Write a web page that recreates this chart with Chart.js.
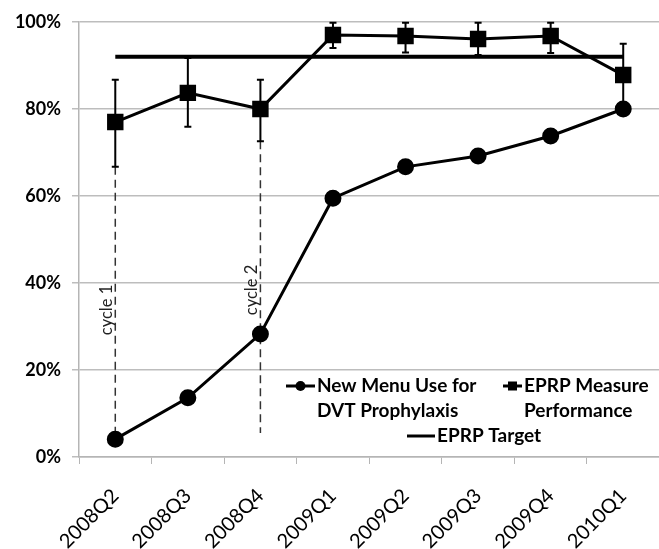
<!DOCTYPE html>
<html>
<head>
<meta charset="utf-8">
<script src="https://cdn.jsdelivr.net/npm/chart.js@4/dist/chart.umd.min.js"></script>
<style>
  html, body { margin: 0; padding: 0; background: #fff; overflow: hidden; }
  #wrap { width: 672px; height: 549px; }
</style>
</head>
<body>
<div id="wrap"><canvas id="mycanvas" width="672" height="549"></canvas></div>
<script>
var quarters = ['2008Q2', '2008Q3', '2008Q4', '2009Q1', '2009Q2', '2009Q3', '2009Q4', '2010Q1'];
var menuUse = [4.1, 13.6, 28.3, 59.5, 66.7, 69.2, 73.8, 80.0];
var eprpMeasure = [77.0, 83.7, 80.0, 97.0, 96.8, 96.1, 96.8, 87.8];
var eprpHigh = [86.7, 91.7, 86.7, 99.8, 99.8, 99.8, 99.8, 95.0];
var eprpLow = [66.7, 75.9, 72.6, 94.0, 93.0, 92.4, 92.9, 80.0];
var eprpTarget = [92, 92, 92, 92, 92, 92, 92, 92];
var yTicks = [0, 20, 40, 60, 80, 100];

// vertical "cycle" markers
var cycleIndex = [0, 2];
var cycleTop = [66.7, 72.6];
var cycleBottom = [4.1, 5.5];
var cycleText = ['cycle 1', 'cycle 2'];
var cycleTextAt = [33.8, 38.4];

var legendLabels = [['New Menu Use for', 'DVT Prophylaxis'], ['EPRP Measure', 'Performance'], ['EPRP Target']];

// error bars + cycle lines, drawn under the series
var extras = {
  id: 'extras',
  beforeDatasetsDraw: function(chart) {
    var ctx = chart.ctx, x = chart.scales.x, y = chart.scales.y;
    ctx.save();
    // cycle dashed lines
    ctx.strokeStyle = '#333';
    ctx.lineWidth = 1.5;
    ctx.setLineDash([8, 5]);
    for (var i = 0; i < cycleIndex.length; i++) {
      var px = x.getPixelForValue(cycleIndex[i]);
      ctx.beginPath();
      ctx.moveTo(px, y.getPixelForValue(cycleTop[i]));
      ctx.lineTo(px, y.getPixelForValue(cycleBottom[i]));
      ctx.stroke();
    }
    ctx.setLineDash([]);
    // cycle labels
    ctx.fillStyle = '#222';
    ctx.font = '16.5px Lato';
    ctx.textAlign = 'center';
    ctx.textBaseline = 'alphabetic';
    for (var i = 0; i < cycleIndex.length; i++) {
      ctx.save();
      ctx.translate(x.getPixelForValue(cycleIndex[i]) - 3, y.getPixelForValue(cycleTextAt[i]));
      ctx.rotate(-Math.PI / 2);
      ctx.fillText(cycleText[i], 0, 0);
      ctx.restore();
    }
    // error bars
    ctx.strokeStyle = '#000';
    ctx.lineWidth = 2;
    for (var j = 0; j < eprpMeasure.length; j++) {
      var ex = x.getPixelForValue(j);
      var hi = y.getPixelForValue(eprpHigh[j]);
      var lo = y.getPixelForValue(eprpLow[j]);
      ctx.beginPath();
      ctx.moveTo(ex, hi); ctx.lineTo(ex, lo);
      ctx.moveTo(ex - 3.5, hi); ctx.lineTo(ex + 3.5, hi);
      ctx.moveTo(ex - 3.5, lo); ctx.lineTo(ex + 3.5, lo);
      ctx.stroke();
    }
    ctx.restore();
  },
  afterDatasetsDraw: function(chart) {
    var ctx = chart.ctx;
    ctx.save();
    ctx.fillStyle = '#000';
    ctx.strokeStyle = '#000';
    ctx.font = 'bold 19px Lato';
    ctx.textAlign = 'left';
    ctx.textBaseline = 'middle';
    var items = [
      {x1: 286, x2: 315, y: 386, tx: 317, marker: 'circle'},
      {x1: 503, x2: 522, y: 386, tx: 524, marker: 'rect'},
      {x1: 407, x2: 435, y: 436, tx: 437, marker: null}
    ];
    items.forEach(function(it, k) {
      ctx.lineWidth = 3;
      ctx.beginPath();
      ctx.moveTo(it.x1, it.y); ctx.lineTo(it.x2, it.y);
      ctx.stroke();
      var mx = (it.x1 + it.x2) / 2;
      if (it.marker === 'circle') {
        ctx.beginPath(); ctx.arc(mx, it.y, 5, 0, Math.PI * 2); ctx.fill();
      } else if (it.marker === 'rect') {
        ctx.fillRect(mx - 4.5, it.y - 4.5, 9, 9);
      }
      legendLabels[k].forEach(function(line, n) {
        ctx.fillText(line, it.tx, it.y + n * 25);
      });
    });
    ctx.restore();
  }
};

var ctx = document.getElementById('mycanvas');
var chart = new Chart(ctx, {
  type: 'line',
  data: {
    labels: quarters,
    datasets: [
      {
        label: 'EPRP Target',
        data: eprpTarget,
        borderColor: '#000',
        borderWidth: 4,
        pointRadius: 0,
        order: 3
      },
      {
        label: 'EPRP Measure Performance',
        data: eprpMeasure,
        borderColor: '#000',
        backgroundColor: '#000',
        borderWidth: 3,
        pointStyle: 'rect',
        pointRadius: 9.5,
        order: 2
      },
      {
        label: 'New Menu Use for DVT Prophylaxis',
        data: menuUse,
        borderColor: '#000',
        backgroundColor: '#000',
        borderWidth: 3,
        pointStyle: 'circle',
        pointRadius: 7,
        order: 1
      }
    ]
  },
  options: {
    responsive: false,
    animation: false,
    layout: { padding: { top: 22, left: 0, right: 0, bottom: 0 } },
    plugins: { legend: { display: false }, tooltip: { enabled: false } },
    scales: {
      x: {
        offset: true,
        grid: { offset: true, drawOnChartArea: false, drawTicks: true, tickLength: 7, color: '#b5b5b5' },
        border: { color: '#b5b5b5', width: 1.5 },
        ticks: { color: '#000', font: { family: 'Lato', size: 20 }, minRotation: 45, maxRotation: 45, autoSkip: false, padding: 20 },
        afterFit: function(s) { s.height = 92; }
      },
      y: {
        min: 0,
        max: 100,
        afterBuildTicks: function(s) { s.ticks = yTicks.map(function(v) { return { value: v }; }); },
        grid: { color: '#bdbdbd', lineWidth: 1.5, tickLength: 7 },
        border: { color: '#b5b5b5', width: 1.5 },
        ticks: {
          color: '#000',
          font: { family: 'Lato', size: 18, weight: 'bold' },
          padding: 11,
          callback: function(v) { return v + '%'; }
        },
        afterFit: function(s) { s.width = 79; }
      }
    }
  },
  plugins: [extras]
});
</script>
</body>
</html>
